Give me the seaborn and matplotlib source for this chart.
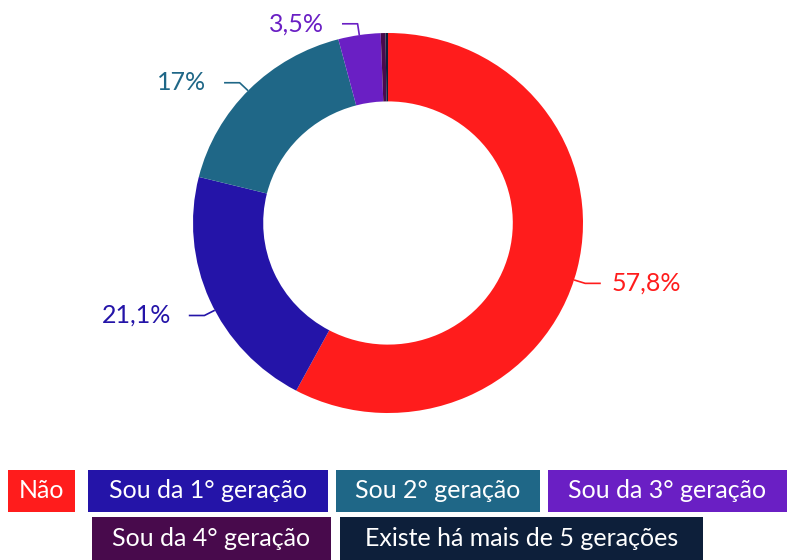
import matplotlib
matplotlib.use("Agg")
import matplotlib.pyplot as plt
from matplotlib.patches import Rectangle
import seaborn as sns
import numpy as np

categories = ["Não", "Sou da 1° geração", "Sou 2° geração", "Sou da 3° geração",
              "Sou da 4° geração", "Existe há mais de 5 gerações"]
values = [57.8, 21.1, 17.0, 3.5, 0.4, 0.2]
pct_labels = ["57,8%", "21,1%", "17%", "3,5%", None, None]
colors = ["#ff1c1c", "#2414a8", "#1f6787", "#6a1fc4", "#480a4c", "#0d1f3a"]

# small layout nudges for the leader lines (degrees)
angle_nudge = [-3.4, 3.4, 0.5, 0.0, 0.0, 0.0]

sns.set_theme(style="white")
plt.rcParams['font.family'] = ['Lato', 'DejaVu Sans']
palette = sns.color_palette(colors)

fig = plt.figure(figsize=(7.9, 5.6), dpi=100)
W, H = 790, 560
cx, cy, Rx, Ry = 388, 223, 195, 190  # pie centre and radii in pixels
ax = fig.add_axes([(cx - 1.5 * Rx) / W, (H - cy - 1.5 * Ry) / H, 3 * Rx / W, 3 * Ry / H])

wedges, _ = ax.pie(values, colors=palette, startangle=90, counterclock=False,
                   radius=1.0, wedgeprops=dict(width=0.36, edgecolor='none'))
ax.set_aspect('auto')
ax.set_xlim(-1.5, 1.5)
ax.set_ylim(-1.5, 1.5)
ax.axis('off')

# percentage labels with leader lines
total = sum(values)
cum = 0
for v, lab, col, nudge in zip(values, pct_labels, palette, angle_nudge):
    mid = 90 - (cum + v / 2) / total * 360 + nudge
    cum += v
    if lab is None:
        continue
    a = np.deg2rad(mid)
    x0, y0 = np.cos(a), np.sin(a)
    x1, y1 = 1.06 * x0, 1.06 * y0
    side = 1 if x0 > 0 else -1
    x2 = x1 + side * 0.08
    gap = 0.055 if side > 0 else 0.09
    ax.plot([x0, x1, x2], [y0, y1, y1], color=col, lw=1.2, solid_capstyle='butt')
    ax.text(x2 + side * gap, y1, lab, color=col, fontsize=18,
            ha='left' if side > 0 else 'right', va='center')

# legend as coloured boxes (left, right in pixels)
legend_rows = [[(0, 8, 75), (1, 88, 328), (2, 336, 540), (3, 548, 787)],
               [(4, 92, 331), (5, 340, 703)]]
row_y = [(470, 512), (517, 560)]
for row, (top, bot) in zip(legend_rows, row_y):
    for idx, left, right in row:
        fig.patches.append(Rectangle((left / W, 1 - bot / H), (right - left) / W,
                                     (bot - top) / H, transform=fig.transFigure,
                                     facecolor=palette[idx], edgecolor='none'))
        fig.text((left + right) / 2 / W, 1 - (top + bot) / 2 / H, categories[idx],
                 color='white', fontsize=18, ha='center', va='center')

fig.savefig("out.png", dpi=100)
